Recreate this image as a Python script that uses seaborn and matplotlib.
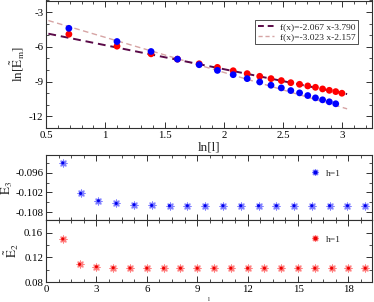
import matplotlib
matplotlib.use("Agg")
import matplotlib.pyplot as plt
import seaborn as sns
import numpy as np
import pandas as pd
from matplotlib.ticker import MultipleLocator
from matplotlib.lines import Line2D

# ---------------- data ----------------
ln_l_red = [0.693, 1.099, 1.386, 1.609, 1.792, 1.946, 2.079, 2.197, 2.303, 2.398,
            2.485, 2.565, 2.639, 2.708, 2.773, 2.833, 2.890, 2.944, 2.996]
ln_E_red = [-4.91, -5.94, -6.60, -7.06, -7.46, -7.77, -8.06, -8.31, -8.54, -8.74,
            -8.91, -9.09, -9.23, -9.37, -9.49, -9.63, -9.75, -9.86, -10.00]
ln_l_blue = [0.693, 1.099, 1.386, 1.609, 1.792, 1.946, 2.079, 2.197, 2.303, 2.398,
             2.485, 2.565, 2.639, 2.708, 2.773, 2.833, 2.890, 2.944]
ln_E_blue = [-4.40, -5.54, -6.40, -7.06, -7.54, -8.03, -8.40, -8.74, -9.03, -9.31,
             -9.54, -9.77, -9.97, -10.20, -10.40, -10.57, -10.74, -10.91]
fit1 = (-2.067, -3.790)
fit2 = (-3.023, -2.157)
fit_x = [0.52, 3.04]
fit1_label = "f(x)=-2.067 x-3.790"
fit2_label = "f(x)=-3.023 x-2.157"

l_E3 = [1.00, 2.06, 3.12, 4.18, 5.24, 6.29, 7.35, 8.41, 9.47, 10.53, 11.59,
        12.65, 13.71, 14.76, 15.82, 16.88, 17.94, 19.00]
E3 = [-0.0931, -0.1023, -0.1045, -0.1053, -0.1057, -0.1059, -0.1060, -0.1060,
      -0.1060, -0.1060, -0.1060, -0.1060, -0.1060, -0.1060, -0.1060, -0.1060,
      -0.1060, -0.1060]
l_E2 = [1, 2, 3, 4, 5, 6, 7, 8, 9, 10, 11, 12, 13, 14, 15, 16, 17, 18, 19]
E2 = [0.1497, 0.1086, 0.1047, 0.1030, 0.1025, 0.1024, 0.1023, 0.1023, 0.1023,
      0.1023, 0.1023, 0.1023, 0.1023, 0.1023, 0.1023, 0.1023, 0.1023, 0.1023, 0.1023]
legend_h = "h=1"

# ---------------- style ----------------
sns.set_theme(style="ticks")
plt.rcParams["font.family"] = ["Liberation Serif", "DejaVu Serif"]
plt.rcParams["mathtext.fontset"] = "stix"
plt.rcParams["axes.unicode_minus"] = False
plt.rcParams["axes.linewidth"] = 0.8
plt.rcParams["axes.edgecolor"] = "#303030"

fig = plt.figure(figsize=(3.74, 3.02), dpi=100)
W, H = 374.0, 302.0
def box(x0, y0, x1, y1):
    return [x0 / W, 1 - y1 / H, (x1 - x0) / W, (y1 - y0) / H]

ax1 = fig.add_axes(box(46, 0.5, 372, 128))
ax2 = fig.add_axes(box(46, 155, 372, 220))
ax3 = fig.add_axes(box(46, 220, 372, 282))

fs = 7.8
lfs = 9.5
for ax in (ax1, ax2, ax3):
    ax.tick_params(which="both", direction="in", top=True, right=True,
                   labelsize=fs, pad=2, colors="#303030", labelcolor="black")
    ax.tick_params(which="major", length=4, width=0.7)
    ax.tick_params(which="minor", length=2.2, width=0.6)

# ---- top panel ----
fx = np.array(fit_x)
df1 = pd.DataFrame({"x": fx, "y": fit1[0] * fx + fit1[1]})
df2 = pd.DataFrame({"x": fx, "y": fit2[0] * fx + fit2[1]})
sns.lineplot(data=df2, x="x", y="y", ax=ax1, color="#d6a4a4", lw=1.0, zorder=1)
sns.lineplot(data=df1, x="x", y="y", ax=ax1, color="#5a0a48", lw=1.4, zorder=1)
for ln in ax1.lines:
    ln.set_dashes((4, 2.5))
sns.scatterplot(x=ln_l_red, y=ln_E_red, ax=ax1, color="#ff0000", s=24,
                edgecolor="none", zorder=3)
sns.scatterplot(x=ln_l_blue, y=ln_E_blue, ax=ax1, color="#0000ff", s=24,
                edgecolor="none", zorder=3)
ax1.set_xlim(0.5, 3.25)
ax1.set_ylim(-13, -2)
ax1.xaxis.set_minor_locator(MultipleLocator(0.1))
ax1.yaxis.set_major_locator(MultipleLocator(3))
ax1.yaxis.set_minor_locator(MultipleLocator(1))
ax1.set_xticks([0.5, 1, 1.5, 2, 2.5, 3])
ax1.set_xticklabels(["0.5", "1", "1.5", "2", "2.5", "3"])
ax1.set_xlabel("ln[l]", fontsize=lfs, labelpad=1)
ax1.set_ylabel(r"ln[$\tilde{\mathrm{E}}_{\mathrm{m}}$]", fontsize=lfs, labelpad=2)
h1 = Line2D([], [], color="#5a0a48", lw=1.4, dashes=(3, 2))
h2 = Line2D([], [], color="#d6a4a4", lw=1.0, dashes=(3, 2))
leg = ax1.legend([h1, h2], [fit1_label, fit2_label], loc="upper right",
                 bbox_to_anchor=(0.957, 0.85), fontsize=6.8, frameon=True,
                 fancybox=False, handlelength=1.7, handletextpad=0.6,
                 borderpad=0.3, labelspacing=0.2, borderaxespad=0)
leg.get_frame().set_edgecolor("black")
leg.get_frame().set_linewidth(0.6)

# ---- middle panel ----
star = (8, 2, 0)
sns.scatterplot(x=l_E3, y=E3, ax=ax2, marker=star, s=24, color="#8080ff",
                linewidth=0.9, zorder=3)
sns.scatterplot(x=l_E3, y=E3, ax=ax2, marker="o", s=5, color="#0000ee",
                edgecolor="none", zorder=4)
ax2.set_xlim(0, 19.4)
ax2.set_ylim(-0.1103, -0.0907)
ax2.xaxis.set_major_locator(MultipleLocator(3))
ax2.xaxis.set_minor_locator(MultipleLocator(0.75))
ax2.set_yticks([-0.108, -0.102, -0.096])
ax2.set_yticklabels(["-0.108", "-0.102", "-0.096"])
ax2.yaxis.set_minor_locator(MultipleLocator(0.003))
ax2.tick_params(axis="x", labelbottom=False)
ax2.set_ylabel(r"$\tilde{\mathrm{E}}_{3}$", fontsize=lfs, labelpad=0)
hb = Line2D([], [], marker=star, color="#8080ff", lw=0, markersize=5, mew=0.9)
hb2 = Line2D([], [], marker="o", color="#0000ee", lw=0, markersize=2.0)
ax2.legend([(hb, hb2)], [legend_h], loc="center left",
           bbox_to_anchor=(0.80, 0.72), fontsize=6.8, frameon=False,
           handlelength=1.0, handletextpad=0.6, borderaxespad=0)

# ---- bottom panel ----
sns.scatterplot(x=l_E2, y=E2, ax=ax3, marker=star, s=24, color="#ff8080",
                linewidth=0.9, zorder=3)
sns.scatterplot(x=l_E2, y=E2, ax=ax3, marker="o", s=5, color="#ee0000",
                edgecolor="none", zorder=4)
ax3.set_xlim(0, 19.4)
ax3.set_ylim(0.08, 0.1805)
ax3.xaxis.set_major_locator(MultipleLocator(3))
ax3.xaxis.set_minor_locator(MultipleLocator(0.75))
ax3.set_yticks([0.08, 0.12, 0.16])
ax3.set_yticklabels(["0.08", "0.12", "0.16"])
ax3.yaxis.set_minor_locator(MultipleLocator(0.02))
ax3.set_xlabel("l", fontsize=5, labelpad=2)
ax3.set_ylabel(r"$\tilde{\mathrm{E}}_{2}$", fontsize=lfs, labelpad=2)
hr = Line2D([], [], marker=star, color="#ff8080", lw=0, markersize=5, mew=0.9)
hr2 = Line2D([], [], marker="o", color="#ee0000", lw=0, markersize=2.0)
ax3.legend([(hr, hr2)], [legend_h], loc="center left",
           bbox_to_anchor=(0.80, 0.69), fontsize=6.8, frameon=False,
           handlelength=1.0, handletextpad=0.6, borderaxespad=0)

fig.savefig("out.png", dpi=100)
